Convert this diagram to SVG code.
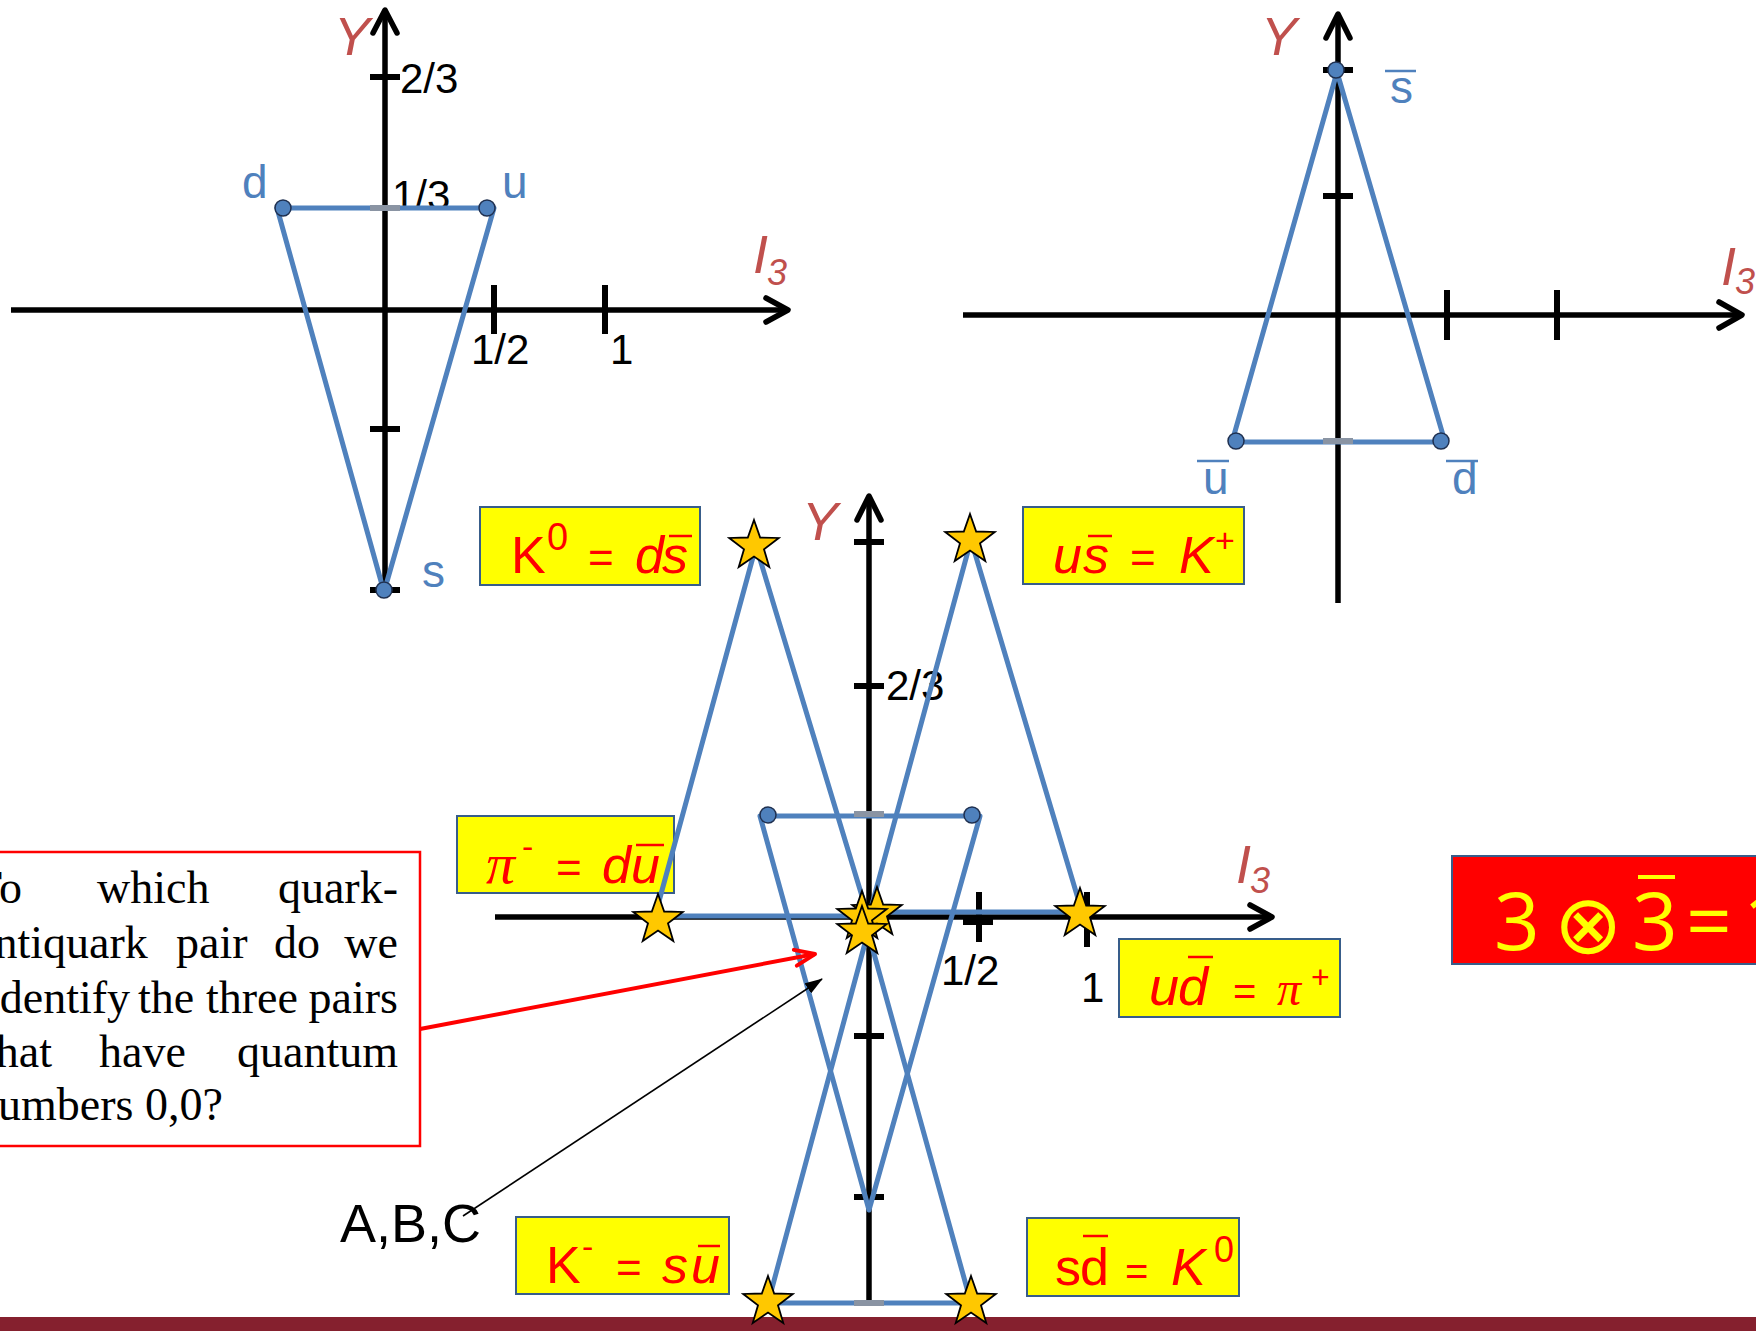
<svg xmlns="http://www.w3.org/2000/svg" width="1756" height="1331" viewBox="0 0 1756 1331">
<defs>
<style>
.axis{stroke:#000;stroke-width:5.5;fill:none}
.head{stroke:#000;stroke-width:5.5;fill:none;stroke-linecap:round;stroke-linejoin:round}
.tick{stroke:#000;stroke-width:6}
.gtick{stroke:#8A94A3;stroke-width:6}
.tri{stroke:#4F81BD;stroke-width:5;fill:none;stroke-linejoin:round}
.dot{fill:#4F81BD;stroke:#1F3050;stroke-width:1.5}
.num{font-family:"Liberation Sans",Arial,sans-serif;font-size:42px;fill:#000}
.q{font-family:"Liberation Sans",Arial,sans-serif;font-size:46px;fill:#4F81BD}
.an{font-family:"Liberation Sans",Arial,sans-serif;font-style:italic;font-size:54px;fill:#C0504D}
.sub{font-size:36px}
.bbar{stroke:#4F81BD;stroke-width:2.5}
.box{fill:#FFFF00;stroke:#385D8A;stroke-width:2}
.eq{font-family:"Liberation Sans",Arial,sans-serif;font-size:52px;fill:#FF0000}
.it{font-style:italic}
.pi{font-family:"Liberation Serif","Times New Roman",serif;font-style:italic}
.rbar{stroke:#FF0000;stroke-width:2.5}
.star{fill:#FFC800;stroke:#000;stroke-width:1.8}
.qt{font-family:"Liberation Serif","Times New Roman",serif;font-size:46px;fill:#000}
.ybig{font-family:"Open Sans","Liberation Sans",sans-serif;font-size:80px;fill:#FFFF00}
</style>
<path id="star" d="M0,-26 L6.17,-8.49 L24.73,-8.03 L9.99,3.24 L15.28,21.03 L0,10.5 L-15.28,21.03 L-9.99,3.24 L-24.73,-8.03 L-6.17,-8.49 Z"/>
<marker id="arrBlack" viewBox="0 0 18 12" refX="17" refY="6" markerWidth="18" markerHeight="12" orient="auto" markerUnits="userSpaceOnUse"><path d="M0,0 L18,6 L0,12 z" fill="#000"/></marker>
<marker id="arrRed" viewBox="0 0 26 22" refX="23" refY="11" markerWidth="26" markerHeight="22" orient="auto" markerUnits="userSpaceOnUse"><path d="M3,3 L23,11 L3,19" fill="none" stroke="#FF0000" stroke-width="4" stroke-linecap="round" stroke-linejoin="round"/></marker>
</defs>
<rect x="0" y="0" width="1756" height="1331" fill="#FFFFFF"/>

<!-- Top-left: quark triplet -->
<g id="quark-triplet">
<line class="axis" x1="11" y1="310" x2="786" y2="310"/>
<polyline class="head" points="766,298 788,310 766,322"/>
<line class="axis" x1="385" y1="594" x2="385" y2="12"/>
<polyline class="head" points="373,33 385,10 397,33"/>
<line class="tick" x1="370" y1="77" x2="400" y2="77"/>
<line class="tick" x1="370" y1="429" x2="400" y2="429"/>
<line class="tick" x1="370" y1="590" x2="400" y2="590"/>
<line class="tick" x1="494" y1="285" x2="494" y2="334"/>
<line class="tick" x1="605" y1="285" x2="605" y2="334"/>
<text class="num" x="400" y="93">2/3</text>
<text class="num" x="392" y="210">1/3</text>
<text class="num" x="471" y="364">1/2</text>
<text class="num" x="610" y="364">1</text>
<text class="an" x="334" y="55">Y</text>
<text class="an" x="753" y="273">I</text>
<text class="an sub" x="767" y="285">3</text>
<polygon class="tri" points="277,208 494,208 384,592"/>
<line class="gtick" x1="370" y1="208" x2="400" y2="208"/>
<circle class="dot" cx="283" cy="208" r="8"/>
<circle class="dot" cx="487" cy="208" r="8"/>
<circle class="dot" cx="384" cy="590" r="8"/>
<text class="q" x="242" y="198">d</text>
<text class="q" x="502" y="198">u</text>
<text class="q" x="422" y="587">s</text>
</g>

<!-- Top-right: antiquark triplet -->
<g id="antiquark-triplet">
<line class="axis" x1="963" y1="315" x2="1738" y2="315"/>
<polyline class="head" points="1719,302 1742,315 1719,328"/>
<line class="axis" x1="1338" y1="603" x2="1338" y2="15"/>
<polyline class="head" points="1326,38 1338,14 1350,38"/>
<line class="tick" x1="1323" y1="70" x2="1353" y2="70"/>
<line class="tick" x1="1323" y1="196" x2="1353" y2="196"/>
<line class="tick" x1="1447" y1="290" x2="1447" y2="340"/>
<line class="tick" x1="1557" y1="290" x2="1557" y2="340"/>
<text class="an" x="1261" y="55">Y</text>
<text class="an" x="1721" y="285">I</text>
<text class="an sub" x="1735" y="294">3</text>
<polygon class="tri" points="1337,72 1232,442 1445,442"/>
<line class="gtick" x1="1323" y1="441" x2="1353" y2="441"/>
<circle class="dot" cx="1336" cy="70" r="8"/>
<circle class="dot" cx="1236" cy="441" r="8"/>
<circle class="dot" cx="1441" cy="441" r="8"/>
<text class="q" x="1390" y="103">s</text>
<line class="bbar" x1="1385" y1="71" x2="1416" y2="71"/>
<text class="q" x="1203" y="494">u</text>
<line class="bbar" x1="1197" y1="461" x2="1229" y2="461"/>
<text class="q" x="1452" y="494">d</text>
<line class="bbar" x1="1446" y1="461" x2="1478" y2="461"/>
</g>

<!-- Bottom: meson nonet axes -->
<g id="nonet-axes">
<line class="axis" x1="495" y1="917" x2="1270" y2="917"/>
<polyline class="head" points="1250,905 1272,917 1250,929"/>
<line class="axis" x1="869" y1="1305" x2="869" y2="497"/>
<polyline class="head" points="857,520 869,496 881,520"/>
<line class="tick" x1="854" y1="542" x2="884" y2="542"/>
<line class="tick" x1="854" y1="686" x2="884" y2="686"/>
<line class="tick" x1="854" y1="1036" x2="884" y2="1036"/>
<line class="tick" x1="854" y1="1197" x2="884" y2="1197"/>
<line class="tick" x1="979" y1="892" x2="979" y2="942"/>
<line class="tick" x1="1087" y1="892" x2="1087" y2="947"/>
<rect x="963" y="915" width="30" height="10" fill="#000"/>
<text class="num" x="886" y="700">2/3</text>
<text class="num" x="941" y="985">1/2</text>
<text class="num" x="1081" y="1002">1</text>
<text class="an" x="802" y="540">Y</text>
<text class="an" x="1236" y="883">I</text>
<text class="an sub" x="1250" y="893">3</text>
</g>

<!-- Yellow meson boxes -->
<g id="box-K0">
<rect class="box" x="480" y="507" width="220" height="78"/>
<text class="eq" y="573"><tspan x="511">K</tspan><tspan x="547" y="550" font-size="38">0</tspan><tspan x="588" y="573" font-size="44">=</tspan><tspan class="it" x="635">d</tspan><tspan class="it" x="662">s</tspan></text>
<line class="rbar" x1="669" y1="536" x2="692" y2="536"/>
</g>
<g id="box-Kplus">
<rect class="box" x="1023" y="507" width="221" height="77"/>
<text class="eq" y="573"><tspan class="it" x="1053">u</tspan><tspan class="it" x="1083">s</tspan><tspan x="1130" font-size="44">=</tspan><tspan class="it" x="1179">K</tspan><tspan x="1215" y="552" font-size="34">+</tspan></text>
<line class="rbar" x1="1088" y1="536" x2="1112" y2="536"/>
</g>
<g id="box-piminus">
<rect class="box" x="457" y="816" width="217" height="77"/>
<text class="eq" y="883"><tspan class="pi" x="486" font-size="58">π</tspan><tspan x="522" y="858" font-size="34">-</tspan><tspan x="556" y="883" font-size="44">=</tspan><tspan class="it" x="602">d</tspan><tspan class="it" x="631">u</tspan></text>
<line class="rbar" x1="636" y1="845" x2="664" y2="845"/>
</g>
<g id="box-piplus">
<rect class="box" x="1119" y="939" width="221" height="78"/>
<text class="eq" y="1005"><tspan class="it" x="1149" font-size="54">u</tspan><tspan class="it" x="1178" font-size="54">d</tspan><tspan x="1233" font-size="40">=</tspan><tspan class="pi" x="1277" font-size="48">π</tspan><tspan x="1311" y="988" font-size="32">+</tspan></text>
<line class="rbar" x1="1188" y1="957" x2="1213" y2="957"/>
</g>
<g id="box-Kminus">
<rect class="box" x="516" y="1217" width="213" height="77"/>
<text class="eq" y="1283"><tspan x="546">K</tspan><tspan x="582" y="1258" font-size="34">-</tspan><tspan x="616" y="1283" font-size="44">=</tspan><tspan class="it" x="662">s</tspan><tspan class="it" x="691">u</tspan></text>
<line class="rbar" x1="698" y1="1246" x2="720" y2="1246"/>
</g>
<g id="box-K0bar">
<rect class="box" x="1027" y="1218" width="212" height="78"/>
<text class="eq" y="1285" font-size="50"><tspan x="1055">s</tspan><tspan x="1080">d</tspan><tspan x="1125" font-size="40">=</tspan><tspan class="it" x="1171" font-size="52">K</tspan><tspan x="1214" y="1262" font-size="36">0</tspan></text>
<line class="rbar" x1="1083" y1="1236" x2="1108" y2="1236"/>
</g>

<!-- Blue triangles of the nonet -->
<g id="nonet-triangles">
<polygon class="tri" points="756,546 655,916 868,916"/>
<polygon class="tri" points="971,540 870,912 1082,912"/>
<polygon class="tri" points="868,932 768,1303 971,1303"/>
<polygon class="tri" points="760,816 980,816 869,1210"/>
<line class="gtick" x1="854" y1="814" x2="884" y2="814"/>
<line class="gtick" x1="854" y1="1303" x2="884" y2="1303"/>
<circle class="dot" cx="768" cy="815" r="8"/>
<circle class="dot" cx="972" cy="815" r="8"/>
</g>

<!-- Bottom bar -->
<rect x="0" y="1317" width="1756" height="14" fill="#85202E"/>

<!-- Stars -->
<g id="stars">
<use href="#star" class="star" x="754" y="546"/>
<use href="#star" class="star" x="970" y="540"/>
<use href="#star" class="star" x="658" y="920"/>
<use href="#star" class="star" x="1080" y="914"/>
<use href="#star" class="star" x="877" y="913"/>
<use href="#star" class="star" x="862" y="917"/>
<use href="#star" class="star" x="862" y="932"/>
<use href="#star" class="star" x="768" y="1302"/>
<use href="#star" class="star" x="971" y="1302"/>
</g>

<!-- Question box -->
<g id="question">
<rect x="-5" y="852" width="425" height="294" fill="#FFFFFF" stroke="#FF0000" stroke-width="2.5"/>
<text class="qt" y="903"><tspan x="-26">To</tspan><tspan x="97">which</tspan></text>
<text class="qt" x="398" y="903" text-anchor="end">quark-</text>
<text class="qt" y="958"><tspan x="-26">antiquark</tspan><tspan x="176">pair</tspan><tspan x="274">do</tspan></text>
<text class="qt" x="398" y="958" text-anchor="end">we</text>
<text class="qt" y="1013"><tspan x="-13">identify</tspan><tspan x="138">the</tspan><tspan x="206">three</tspan></text>
<text class="qt" x="398" y="1013" text-anchor="end">pairs</text>
<text class="qt" y="1067"><tspan x="-17">that</tspan><tspan x="99">have</tspan></text>
<text class="qt" x="398" y="1067" text-anchor="end">quantum</text>
<text class="qt" x="-25" y="1120">numbers 0,0?</text>
</g>

<g id="answer-label">
<text x="340" y="1242" font-family="'Liberation Sans',Arial,sans-serif" font-size="54" fill="#000">A,B,C</text>
</g>

<!-- Red product box -->
<g id="product">
<rect x="1452" y="856" width="320" height="108" fill="#FF0000" stroke="#385D8A" stroke-width="2"/>
<text class="ybig" y="950"><tspan x="1494">3</tspan></text>
<text x="1554" y="953" font-family="'DejaVu Sans',sans-serif" font-size="82" fill="#FFFF00">⊗</text>
<text class="ybig" y="950"><tspan x="1632">3</tspan><tspan x="1686">=</tspan><tspan x="1743">1</tspan></text>
<line x1="1638" y1="877" x2="1675" y2="877" stroke="#FFFF00" stroke-width="4"/>
</g>

<!-- Connectors -->
<g id="connectors">
<line x1="420" y1="1029" x2="815" y2="954" stroke="#FF0000" stroke-width="4" marker-end="url(#arrRed)"/>
<line x1="463" y1="1216" x2="822" y2="979" stroke="#000" stroke-width="1.6" marker-end="url(#arrBlack)"/>
</g>
</svg>
